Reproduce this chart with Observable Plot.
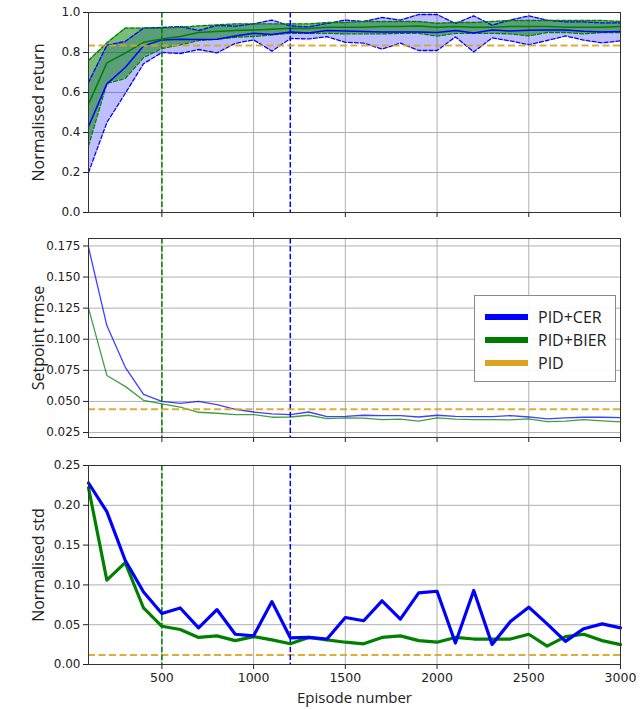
<!DOCTYPE html>
<html>
<head>
<meta charset="utf-8">
<script src="https://cdn.jsdelivr.net/npm/d3@7"></script>
<script src="https://cdn.jsdelivr.net/npm/@observablehq/plot@0.6"></script>
<style>
  body { margin: 0; background: #fff; }
  #chart { position: relative; width: 641px; height: 710px; background: #fff; }
  #chart svg { display: block; }
  .legend { position: absolute; left: 474px; top: 295px; width: 142px; height: 87px; box-sizing: border-box;
            border: 1px solid #8a8a8a; background: rgba(255,255,255,0.9); font-family: "Open Sans", sans-serif; font-size: 16px; color: #222; }
  .legend .row { position: absolute; left: 10px; height: 20px; display: flex; align-items: center; }
  .legend .sw { width: 43px; height: 6px; margin-right: 10px; }
</style>
</head>
<body>
<div id="chart"></div>
<script>
// ---------------- data ----------------
const episodes = [100,200,300,400,500,600,700,800,900,1000,1100,1200,1300,1400,1500,1600,1700,1800,1900,2000,2100,2200,2300,2400,2500,2600,2700,2800,2900,3000];
const xTicks = [500,1000,1500,2000,2500,3000];

// Normalised return
const returnCerMean  = [0.43,0.643,0.725,0.833,0.863,0.866,0.865,0.866,0.883,0.896,0.89,0.903,0.898,0.91,0.908,0.905,0.903,0.902,0.903,0.9,0.91,0.897,0.912,0.908,0.911,0.913,0.913,0.906,0.902,0.905];
const returnCerUpper = [0.65,0.836,0.855,0.922,0.925,0.93,0.91,0.935,0.932,0.943,0.962,0.933,0.928,0.945,0.962,0.955,0.975,0.962,0.99,0.99,0.945,0.983,0.937,0.962,0.983,0.962,0.953,0.953,0.948,0.948];
const returnCerLower = [0.2,0.45,0.595,0.744,0.8,0.795,0.815,0.798,0.846,0.863,0.807,0.87,0.868,0.879,0.851,0.847,0.817,0.847,0.81,0.81,0.878,0.803,0.873,0.858,0.839,0.86,0.883,0.862,0.848,0.858];
const returnBierMean  = [0.542,0.748,0.797,0.851,0.868,0.88,0.9,0.905,0.91,0.913,0.916,0.921,0.92,0.926,0.926,0.926,0.93,0.93,0.933,0.926,0.93,0.926,0.926,0.93,0.93,0.93,0.926,0.926,0.926,0.93];
const returnBierUpper = [0.76,0.848,0.922,0.922,0.922,0.926,0.933,0.938,0.943,0.943,0.943,0.943,0.943,0.95,0.95,0.955,0.955,0.955,0.955,0.946,0.95,0.95,0.955,0.96,0.96,0.96,0.96,0.96,0.96,0.955];
const returnBierLower = [0.333,0.645,0.67,0.775,0.82,0.838,0.86,0.866,0.876,0.88,0.888,0.896,0.896,0.896,0.893,0.893,0.893,0.896,0.896,0.882,0.896,0.896,0.896,0.893,0.883,0.9,0.9,0.893,0.9,0.9];
const returnPid = 0.835;

// Setpoint rmse
const rmseCer  = [0.174,0.111,0.0776,0.0557,0.05,0.0485,0.05,0.0474,0.0437,0.0415,0.04,0.0394,0.0415,0.0378,0.038,0.0389,0.0386,0.0386,0.0375,0.0389,0.038,0.0378,0.0378,0.0386,0.0375,0.036,0.0367,0.0373,0.0373,0.037];
const rmseBier = [0.125,0.0709,0.0621,0.0509,0.048,0.0455,0.0413,0.0405,0.0394,0.0394,0.0373,0.0375,0.0389,0.0362,0.0367,0.0365,0.0354,0.0357,0.0341,0.0367,0.0357,0.0354,0.0354,0.0351,0.0359,0.0338,0.0341,0.0354,0.0343,0.0335];
const rmsePid = 0.0437;

// Normalised std
const stdCer  = [0.228,0.192,0.131,0.091,0.064,0.071,0.046,0.069,0.038,0.036,0.079,0.0335,0.034,0.032,0.059,0.055,0.08,0.057,0.09,0.092,0.027,0.093,0.025,0.054,0.072,0.051,0.029,0.045,0.051,0.046];
const stdBier = [0.222,0.106,0.128,0.071,0.048,0.044,0.034,0.036,0.03,0.035,0.031,0.026,0.034,0.031,0.028,0.026,0.034,0.036,0.03,0.028,0.034,0.032,0.032,0.032,0.038,0.023,0.035,0.038,0.03,0.025];
const stdPid = 0.012;

const bierConverged = 500;
const cerConverged = 1200;

const seriesNames = ["PID+CER", "PID+BIER", "PID"];
const seriesColors = ["#0000ff", "#007a00", "#daa520"];

const yLabels = ["Normalised return", "Setpoint rmse", "Normalised std"];
const xLabel = "Episode number";

// ---------------- build ----------------
const ret = episodes.map((e, i) => ({e, cm: returnCerMean[i], cu: returnCerUpper[i], cl: returnCerLower[i],
  bm: returnBierMean[i], bu: returnBierUpper[i], bl: returnBierLower[i]}));
const rm = episodes.map((e, i) => ({e, c: rmseCer[i], b: rmseBier[i]}));
const sd = episodes.map((e, i) => ({e, c: stdCer[i], b: stdBier[i]}));

const BLUE = "#0000ff", GREEN = "#008000", GOLD = "#daa520";

function common(yTicks, yFmt, label, showX) {
  const marks = [
    Plot.gridX(xTicks, {stroke: "#b0b0b0", strokeOpacity: 1, strokeWidth: 1}),
    Plot.gridY(yTicks, {stroke: "#b0b0b0", strokeOpacity: 1, strokeWidth: 1}),
    Plot.axisY({ticks: yTicks, tickFormat: yFmt, tickSize: 5, tickPadding: 3, label: null, fontSize: 12}),
    Plot.axisX({ticks: xTicks, tickSize: 5, tickPadding: 4, label: null, fontSize: 12.5,
                tickFormat: showX ? (d => String(d)) : (() => "")}),
    Plot.text([label], {frameAnchor: "left", dx: -50, rotate: -90, textAnchor: "middle", fontSize: 16, fontFamily: "Open Sans", fill: "#222"})
  ];
  if (showX) marks.push(Plot.text([xLabel], {frameAnchor: "bottom", dy: 38, textAnchor: "middle", fontSize: 15, fontFamily: "Open Sans", fill: "#222"}));
  return marks;
}
function vrefs() {
  return [
    Plot.ruleX([bierConverged], {stroke: GREEN, strokeWidth: 1.5, strokeDasharray: "5.5 2.4"}),
    Plot.ruleX([cerConverged], {stroke: BLUE, strokeWidth: 1.5, strokeDasharray: "5.5 2.4"})
  ];
}
function pidRef(v) {
  return Plot.ruleY([v], {stroke: GOLD, strokeWidth: 2, strokeDasharray: "7 3.5", strokeOpacity: 0.9});
}
function opts(height, mt, mb, yDomain) {
  return {width: 641, height, marginLeft: 88, marginRight: 21, marginTop: mt, marginBottom: mb,
    x: {domain: [100, 3000]}, y: {domain: yDomain},
    style: {fontFamily: "DejaVu Sans", color: "#222", background: "white", overflow: "visible"}};
}

const p1 = Plot.plot({...opts(225, 12, 13, [0, 1]), marks: [
  ...common([0,0.2,0.4,0.6,0.8,1.0], d3.format(".1f"), yLabels[0], false),
  Plot.areaY(ret, {x: "e", y1: "cl", y2: "cu", fill: BLUE, fillOpacity: 0.25}),
  Plot.areaY(ret, {x: "e", y1: "bl", y2: "bu", fill: GREEN, fillOpacity: 0.52}),
  Plot.lineY(ret, {x: "e", y: "cu", stroke: BLUE, strokeWidth: 1.3, strokeDasharray: "4 2"}),
  Plot.lineY(ret, {x: "e", y: "cl", stroke: BLUE, strokeWidth: 1.3, strokeDasharray: "4 2"}),
  Plot.lineY(ret, {x: "e", y: "bu", stroke: GREEN, strokeWidth: 1.3, strokeDasharray: "4 2"}),
  Plot.lineY(ret, {x: "e", y: "bl", stroke: GREEN, strokeWidth: 1.3, strokeDasharray: "4 2"}),
  Plot.lineY(ret, {x: "e", y: "cm", stroke: BLUE, strokeWidth: 1.5}),
  Plot.lineY(ret, {x: "e", y: "bm", stroke: GREEN, strokeWidth: 1.5}),
  ...vrefs(),
  pidRef(returnPid),
  Plot.frame({stroke: "#333", strokeWidth: 1})
]});

const p2 = Plot.plot({...opts(225, 13, 13, [0.021, 0.181]), marks: [
  ...common([0.025,0.05,0.075,0.1,0.125,0.15,0.175], d3.format(".3f"), yLabels[1], false),
  Plot.lineY(rm, {x: "e", y: "c", stroke: BLUE, strokeWidth: 1.3, strokeOpacity: 0.75}),
  Plot.lineY(rm, {x: "e", y: "b", stroke: GREEN, strokeWidth: 1.3, strokeOpacity: 0.75}),
  ...vrefs(),
  pidRef(rmsePid),
  Plot.frame({stroke: "#333", strokeWidth: 1})
]});

const p3 = Plot.plot({...opts(260, 15, 46, [0, 0.25]), marks: [
  ...common([0,0.05,0.1,0.15,0.2,0.25], d3.format(".2f"), yLabels[2], true),
  pidRef(stdPid),
  ...vrefs(),
  Plot.lineY(sd, {x: "e", y: "b", stroke: GREEN, strokeWidth: 3.2}),
  Plot.lineY(sd, {x: "e", y: "c", stroke: BLUE, strokeWidth: 3.2}),
  Plot.frame({stroke: "#333", strokeWidth: 1})
]});

const chart = document.getElementById("chart");
chart.append(p1, p2, p3);

// legend (inside the middle panel)
const lg = document.createElement("div");
lg.className = "legend";
seriesNames.forEach((name, i) => {
  const row = document.createElement("div");
  row.className = "row";
  row.style.top = (11 + i * 23) + "px";
  const sw = document.createElement("span");
  sw.className = "sw";
  sw.style.background = seriesColors[i];
  const t = document.createElement("span");
  t.textContent = name;
  row.append(sw, t);
  lg.append(row);
});
chart.append(lg);
</script>
</body>
</html>
